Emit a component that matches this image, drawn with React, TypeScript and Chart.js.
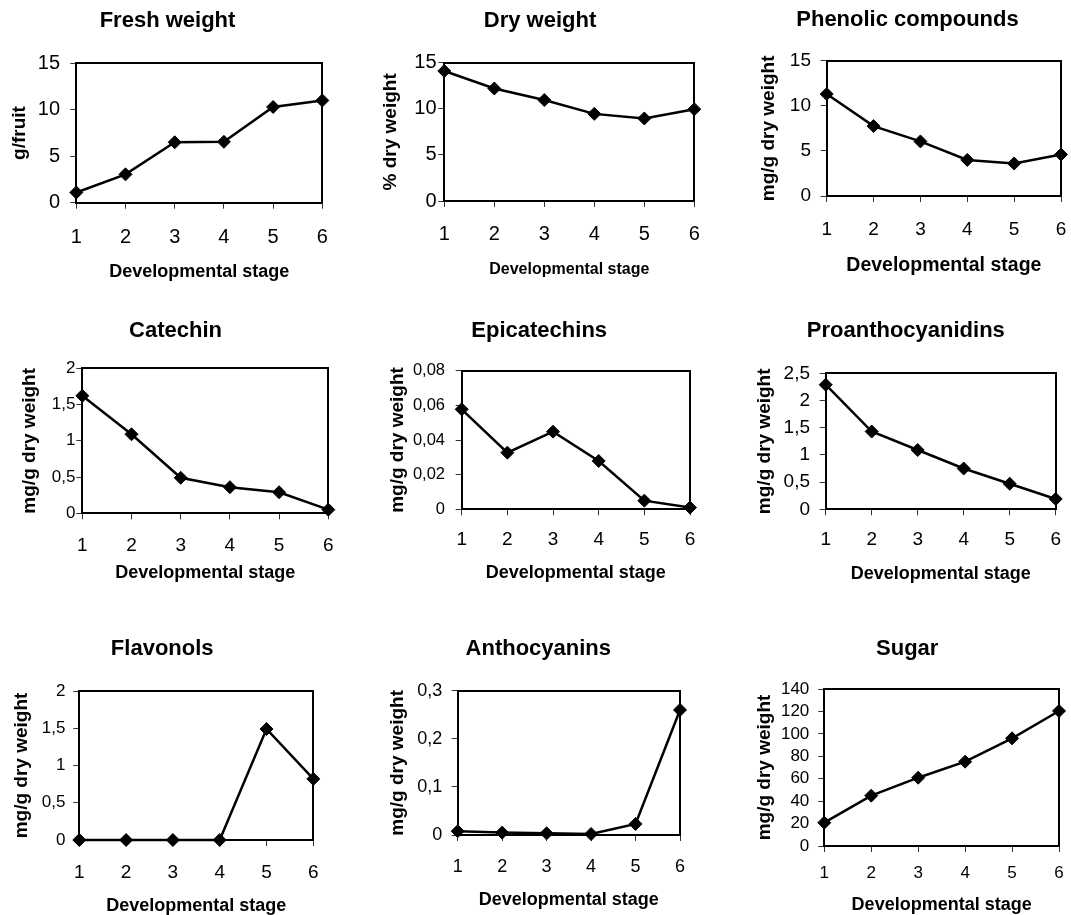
import React, { useEffect, useRef } from 'react';
import { Chart, registerables } from 'chart.js';

Chart.register(...registerables);

// ---------- data ----------
const stages = ['1', '2', '3', '4', '5', '6'];

const freshWeight = [1.1, 3.05, 6.5, 6.55, 10.3, 11.0];
const dryWeight = [14.1, 12.2, 10.95, 9.45, 8.95, 9.95];
const phenolicCompounds = [11.3, 7.75, 6.05, 4.0, 3.6, 4.6];
const catechin = [1.62, 1.09, 0.49, 0.36, 0.29, 0.05];
const epicatechins = [0.0577, 0.0327, 0.0448, 0.0279, 0.005, 0.001];
const proanthocyanidins = [2.29, 1.43, 1.09, 0.75, 0.47, 0.19];
const flavonols = [0, 0, 0, 0, 1.49, 0.82];
const anthocyanins = [0.008, 0.005, 0.0035, 0.002, 0.023, 0.26];
const sugar = [20.8, 44.9, 60.9, 75.2, 96, 120.4];

const seriesValues = [
  freshWeight, dryWeight, phenolicCompounds,
  catechin, epicatechins, proanthocyanidins,
  flavonols, anthocyanins, sugar,
];

const panelTitles = [
  'Fresh weight', 'Dry weight', 'Phenolic compounds',
  'Catechin', 'Epicatechins', 'Proanthocyanidins',
  'Flavonols', 'Anthocyanins', 'Sugar',
];

const yAxisTitles = [
  'g/fruit', '% dry weight', 'mg/g dry weight',
  'mg/g dry weight', 'mg/g dry weight', 'mg/g dry weight',
  'mg/g dry weight', 'mg/g dry weight', 'mg/g dry weight',
];

const xAxisTitle = 'Developmental stage';

const yAxisMax = [15, 15, 15, 2, 0.08, 2.5, 2, 0.3, 140];
const yAxisStep = [5, 5, 5, 0.5, 0.02, 0.5, 0.5, 0.1, 20];

// ---------- layout (page coordinates of each panel) ----------
type Spec = {
  L: number; T: number; R: number; B: number;
  tx: number; ty: number; yTitleX: number; yTickRight: number;
  xTickY: number; xTitleY: number; cy: number;
  fT: number; fYt: number; fXt: number; fYT: number; fXT: number;
};

const layouts: Spec[] = [
  { L: 76.3, T: 63.3, R: 322.3, B: 202.7, tx: 167.5, ty: 21.2, yTitleX: 20, yTickRight: 60, xTickY: 237.5, xTitleY: 271.7, cy: 0, fT: 22, fYt: 20, fXt: 20, fYT: 19, fXT: 18 },
  { L: 444.3, T: 62.7, R: 694.3, B: 201, tx: 540, ty: 21, yTitleX: 390.7, yTickRight: 436.5, xTickY: 234, xTitleY: 270, cy: 0, fT: 22, fYt: 20, fXt: 20, fYT: 19, fXT: 16 },
  { L: 826.7, T: 60.7, R: 1061, B: 196, tx: 907.5, ty: 20.3, yTitleX: 768.3, yTickRight: 811, xTickY: 230, xTitleY: 266, cy: 0, fT: 22, fYt: 19, fXt: 19, fYT: 19, fXT: 19.5 },
  { L: 82.3, T: 368.3, R: 328.3, B: 513.3, tx: 175.5, ty: 331.2, yTitleX: 30, yTickRight: 75.5, xTickY: 545.8, xTitleY: 573.3, cy: 300, fT: 22, fYt: 17, fXt: 19, fYT: 19, fXT: 18 },
  { L: 461.7, T: 370.7, R: 690, B: 509.3, tx: 539.2, ty: 331.2, yTitleX: 397.5, yTickRight: 445, xTickY: 540, xTitleY: 573.3, cy: 300, fT: 22, fYt: 16.5, fXt: 19, fYT: 19, fXT: 18 },
  { L: 825.7, T: 373.3, R: 1055.7, B: 509.3, tx: 905.8, ty: 331.2, yTitleX: 765, yTickRight: 810, xTickY: 540, xTitleY: 574, cy: 300, fT: 22, fYt: 19, fXt: 19, fYT: 19, fXT: 18 },
  { L: 79.3, T: 691, R: 313.3, B: 840, tx: 162.2, ty: 649, yTitleX: 21.7, yTickRight: 65.5, xTickY: 872.5, xTitleY: 906, cy: 610, fT: 22, fYt: 17, fXt: 19, fYT: 19, fXT: 18 },
  { L: 457.7, T: 690.7, R: 680, B: 835, tx: 538.3, ty: 649, yTitleX: 397.5, yTickRight: 442.3, xTickY: 866.7, xTitleY: 900, cy: 610, fT: 22, fYt: 18, fXt: 18, fYT: 19, fXT: 18 },
  { L: 824.3, T: 689, R: 1059, B: 846, tx: 907.2, ty: 649, yTitleX: 765, yTickRight: 809.3, xTickY: 873.3, xTitleY: 905, cy: 610, fT: 22, fYt: 17, fXt: 17, fYT: 19, fXT: 18 },
];

const FONT = "'Liberation Sans', Arial, Helvetica, sans-serif";
const TICK_LEN = 6;
const LH = 1.2;

function computeGeometry(s: Spec) {
  const lhT = s.fT * LH;
  const lhYT = s.fYT * LH;
  const lhXT = s.fXT * LH;
  const lhXt = s.fXt * LH;
  const axisLeft = 2 * s.tx - s.R;
  const cx = Math.max(0, Math.floor(Math.min(axisLeft, s.yTitleX - lhYT / 2) - 2));
  const pl = axisLeft - cx;
  const cw = Math.ceil(s.R + 12 - cx);
  const pr = cx + cw - s.R;
  const cy = s.cy;
  const ch = Math.ceil(s.xTitleY + lhXT / 2 + 2 - cy);
  return {
    cx, cy, cw, ch, pl, pr,
    yWidth: s.L - axisLeft,
    xHeight: cy + ch - s.B,
    xTitlePadBottom: cy + ch - s.xTitleY - lhXT / 2,
    titlePadTop: s.ty - cy - lhT / 2,
    titlePadBottom: s.T - s.ty - lhT / 2,
    yTitlePadTop: s.yTitleX - axisLeft - lhYT / 2,
    yTickPad: s.L - TICK_LEN - s.yTickRight,
    xTickPad: s.xTickY - s.B - TICK_LEN - lhXt / 2,
  };
}

function formatTick(v: number | string) {
  const n = Number(v);
  if (Math.abs(n) < 1e-12) return '0';
  return String(Number(n.toFixed(4))).replace('.', ',');
}

function Panel({ index }: { index: number }) {
  const ref = useRef<HTMLCanvasElement | null>(null);
  const s = layouts[index];
  const g = computeGeometry(s);

  useEffect(() => {
    if (!ref.current) return;
    const chart = new Chart(ref.current, {
      type: 'line',
      data: {
        labels: stages,
        datasets: [
          {
            data: seriesValues[index],
            borderColor: '#000',
            borderWidth: 2.5,
            backgroundColor: '#000',
            pointStyle: 'rectRot',
            pointRadius: 6.5,
            pointBackgroundColor: '#000',
            pointBorderColor: '#000',
            pointBorderWidth: 1,
            tension: 0,
            fill: false,
            clip: false,
          },
        ],
      },
      options: {
        animation: false,
        responsive: false,
        devicePixelRatio: 1,
        layout: { padding: { left: g.pl, right: g.pr, top: 0, bottom: 0 } },
        plugins: {
          legend: { display: false },
          tooltip: { enabled: false },
          title: {
            display: true,
            text: panelTitles[index],
            color: '#000',
            font: { family: FONT, size: s.fT, weight: 'bold' },
            padding: { top: g.titlePadTop, bottom: g.titlePadBottom },
          },
        },
        scales: {
          x: {
            type: 'category',
            position: 'bottom',
            offset: false,
            grid: { display: true, drawOnChartArea: false, drawTicks: true, tickLength: TICK_LEN, tickColor: '#333', tickWidth: 1 },
            border: { display: true, color: '#000', width: 2 },
            ticks: { color: '#000', font: { family: FONT, size: s.fXt }, padding: g.xTickPad, maxRotation: 0, autoSkip: false },
            title: {
              display: true,
              text: xAxisTitle,
              color: '#000',
              font: { family: FONT, size: s.fXT, weight: 'bold' },
              padding: { top: 0, bottom: g.xTitlePadBottom },
            },
            afterFit: (scale: any) => {
              scale.height = g.xHeight;
              scale.paddingLeft = 0;
              scale.paddingRight = 0;
            },
          },
          y: {
            type: 'linear',
            position: 'left',
            min: 0,
            max: yAxisMax[index],
            grid: { display: true, drawOnChartArea: false, drawTicks: true, tickLength: TICK_LEN, tickColor: '#333', tickWidth: 1 },
            border: { display: true, color: '#000', width: 2 },
            ticks: {
              stepSize: yAxisStep[index],
              autoSkip: false,
              color: '#000',
              font: { family: FONT, size: s.fYt },
              padding: g.yTickPad,
              callback: (v: any) => formatTick(v),
            },
            title: {
              display: true,
              text: yAxisTitles[index],
              color: '#000',
              font: { family: FONT, size: s.fYT, weight: 'bold' },
              padding: { top: g.yTitlePadTop, bottom: 0 },
            },
            afterFit: (scale: any) => {
              scale.width = g.yWidth;
              scale.paddingTop = 0;
              scale.paddingBottom = 0;
            },
          },
          x2: {
            type: 'linear',
            position: 'top',
            display: true,
            grid: { display: false, drawTicks: false },
            ticks: { display: false },
            border: { display: true, color: '#000', width: 2 },
            afterFit: (scale: any) => {
              scale.height = 0;
              scale.paddingLeft = 0;
              scale.paddingRight = 0;
            },
          },
          y2: {
            type: 'linear',
            position: 'right',
            display: true,
            grid: { display: false, drawTicks: false },
            ticks: { display: false },
            border: { display: true, color: '#000', width: 2 },
            afterFit: (scale: any) => {
              scale.width = 0;
              scale.paddingTop = 0;
              scale.paddingBottom = 0;
            },
          },
        },
      } as any,
    });
    return () => chart.destroy();
  }, [index]);

  return (
    <canvas
      ref={ref}
      width={g.cw}
      height={g.ch}
      style={{ position: 'absolute', left: g.cx, top: g.cy, width: g.cw, height: g.ch }}
    />
  );
}

export default function App() {
  return (
    <div
      style={{
        position: 'absolute',
        left: 0,
        top: 0,
        width: 1071,
        height: 915,
        overflow: 'hidden',
        background: '#fff',
      }}
    >
      {panelTitles.map((_, i) => (
        <Panel key={i} index={i} />
      ))}
    </div>
  );
}
